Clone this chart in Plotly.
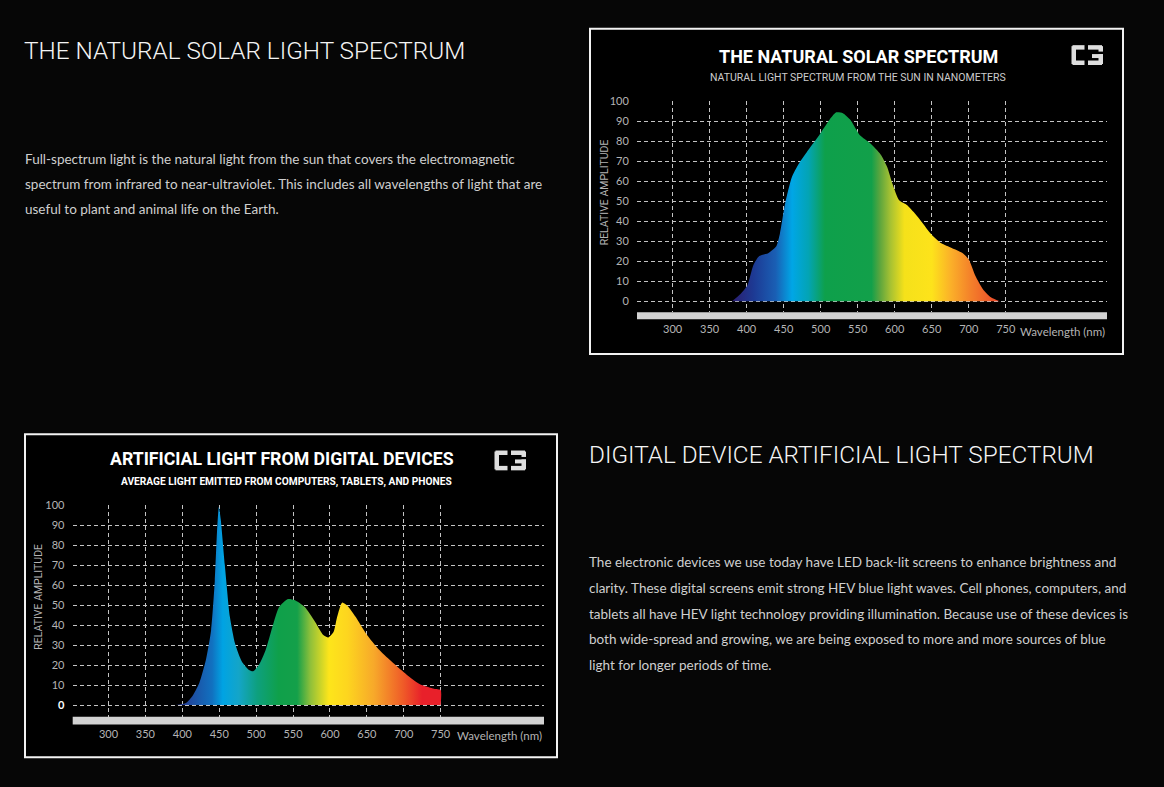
import plotly.graph_objects as go

W, H = 1164, 787

# natural solar spectrum
solar_nm = [380, 392, 401, 409, 417, 429, 440, 445, 452, 461, 470, 484, 498, 512,
            521, 530, 540, 553, 567, 581, 590, 597, 606, 617, 631, 650, 663, 677,
            691, 700, 709, 719, 730, 742]
solar_amp = [0, 3.8, 8, 18, 22.6, 24, 27.5, 34, 49, 62, 68.5, 76, 83, 90.7,
             94.4, 94, 90.7, 83, 79, 73.4, 67, 58.7, 50.5, 48, 42.3, 33.3, 29, 26.7,
             24.3, 21, 12.8, 6.2, 2, 0]

# artificial light from digital devices
device_nm = [391, 405, 414, 423, 432, 439, 444, 447, 449.5, 452, 457.6, 464.5, 471.4,
             480.6, 489.9, 495.9, 503.7, 512.9, 522, 531, 543, 552, 566, 580, 591,
             598, 605, 609.7, 616.6, 623.5, 635, 649, 667, 685.7, 704, 722.6, 741, 750, 750]
device_amp = [0, 1, 4.6, 11, 22.6, 37.4, 62, 86.6, 99, 93, 70, 44, 30.8,
              21.8, 17.7, 16.9, 20, 27.5, 39, 48.9, 53, 52.5, 49, 41.5, 35,
              33.8, 36.6, 44, 51.3, 49.7, 44, 35.7, 27.5, 21, 15.2, 10.3, 8.2, 7.5, 0]

x_ticks = [300, 350, 400, 450, 500, 550, 600, 650, 700, 750]
y_ticks = [0, 10, 20, 30, 40, 50, 60, 70, 80, 90, 100]

solar_scale = [[0.00, "#2b1d6e"], [0.08, "#1d3a94"], [0.16, "#1a5fb4"], [0.22, "#00a6e6"],
               [0.28, "#03a4b4"], [0.34, "#0ea04b"], [0.51, "#12a04a"], [0.54, "#5aa53e"],
               [0.58, "#a8c232"], [0.63, "#f5e11a"], [0.73, "#fde31b"], [0.80, "#fbb029"],
               [0.87, "#f4822a"], [1.00, "#e8382a"]]
device_scale = [[0.00, "#2a2f8a"], [0.08, "#1b55a8"], [0.14, "#1171c0"], [0.18, "#00a3e3"],
                [0.24, "#14a5c8"], [0.31, "#0ea07e"], [0.39, "#0fa04a"], [0.46, "#14a04a"],
                [0.51, "#8fc03a"], [0.58, "#fde51b"], [0.65, "#fdd51f"], [0.75, "#f7a82a"],
                [0.86, "#ef5a28"], [0.93, "#e8202a"], [1.00, "#e8202a"]]

para1 = ["Full-spectrum light is the natural light from the sun that covers the electromagnetic",
         "spectrum from infrared to near-ultraviolet. This includes all wavelengths of light that are",
         "useful to plant and animal life on the Earth."]
para2 = ["The electronic devices we use today have LED back-lit screens to enhance brightness and",
         "clarity. These digital screens emit strong HEV blue light waves. Cell phones, computers, and",
         "tablets all have HEV light technology providing illumination. Because use of these devices is",
         "both wide-spread and growing, we are being exposed to more and more sources of blue",
         "light for longer periods of time."]

GRID = "#c4c4c4"
TICK = "#b4b4b4"
NARROW = "Roboto, sans-serif"
BODY = "Lato, Open Sans, sans-serif"


def px(x):
    return x / W


def py(y):
    return 1 - y / H


fig = go.Figure()
fig.add_trace(go.Scatter(
    x=solar_nm, y=solar_amp, mode="none", fill="tozeroy",
    line=dict(shape="spline", smoothing=0.6),
    fillgradient=dict(type="horizontal", colorscale=solar_scale, start=380, stop=750),
    xaxis="x", yaxis="y", hoverinfo="skip", showlegend=False,
))
fig.add_trace(go.Scatter(
    x=device_nm, y=device_amp, mode="none", fill="tozeroy",
    line=dict(shape="spline", smoothing=0.6),
    fillgradient=dict(type="horizontal", colorscale=device_scale, start=390, stop=750),
    xaxis="x2", yaxis="y2", hoverinfo="skip", showlegend=False,
))

axis_common = dict(showline=False, zeroline=False, showgrid=True, gridcolor=GRID,
                   gridwidth=1, griddash="4px,3px", tickfont=dict(family=BODY, size=11, color=TICK),
                   ticks="outside", tickcolor="rgba(0,0,0,0)", fixedrange=True)

fig.update_layout(
    width=W, height=H,
    margin=dict(l=0, r=0, t=0, b=0),
    paper_bgcolor="#060606",
    plot_bgcolor="rgba(0,0,0,0)",
    xaxis=dict(**axis_common, domain=[px(637), px(1107)], range=[251.8, 886.9],
               tickvals=x_ticks, ticklen=7, anchor="y"),
    yaxis=dict(**axis_common, domain=[py(308), py(95)], range=[-5.45, 100],
               tickvals=y_ticks, ticklen=5, anchor="x"),
    xaxis2=dict(**axis_common, domain=[px(72.7), px(544)], range=[251.5, 890],
                tickvals=x_ticks, ticklen=7, anchor="y2"),
    yaxis2=dict(**axis_common, domain=[py(716), py(502.5)], range=[-5.8, 100],
                tickvals=y_ticks, ticktext=["<b style='color:#fff'>0</b>"] + [str(v) for v in y_ticks[1:]],
                ticklen=5, anchor="x2"),
)

shapes = [
    # chart frames
    dict(type="rect", xref="paper", yref="paper", x0=px(590), x1=px(1123), y0=py(350), y1=py(22),
         line=dict(color="#f2f2f2", width=2), fillcolor="#000000", layer="below"),
    dict(type="rect", xref="paper", yref="paper", x0=px(25), x1=px(557), y0=py(757), y1=py(431),
         line=dict(color="#f2f2f2", width=2), fillcolor="#000000", layer="below"),
    # grey baseline bars
    dict(type="rect", xref="paper", yref="paper", x0=px(637), x1=px(1107), y0=py(315), y1=py(308),
         line=dict(width=0), fillcolor="#d2d2d2"),
    dict(type="rect", xref="paper", yref="paper", x0=px(72.7), x1=px(544), y0=py(724), y1=py(716),
         line=dict(width=0), fillcolor="#d2d2d2"),
]


def logo(x, y):
    # bracket-style logo, x/y = top-left corner in pixels
    parts = [(0, 1, 4.5, 19), (1, 0, 13, 4.5), (1, 15.5, 13, 20),
             (16.5, 0, 30.5, 4.5), (27, 1, 31.5, 6.5),
             (20.5, 9, 31.5, 13), (27, 9, 31.5, 19), (16.5, 15.5, 30.5, 20)]
    return [dict(type="rect", xref="paper", yref="paper",
                 x0=px(x + a), x1=px(x + c), y0=py(y + d), y1=py(y + b),
                 line=dict(width=0), fillcolor="#dedede") for a, b, c, d in parts]


shapes += logo(1071.5, 38.5) + logo(494.5, 447.5)
fig.update_layout(shapes=shapes)

ann = []


def text(x, y, s, size, color="#ffffff", family=BODY, xanchor="left", textangle=0, weight=None):
    f = dict(family=family, size=size, color=color)
    if weight:
        f["weight"] = weight
    ann.append(dict(x=px(x), y=py(y), xref="paper", yref="paper", text=s, showarrow=False,
                    xanchor=xanchor, yanchor="middle", textangle=textangle, font=f))


# page headings and copy
text(22, 44, "THE NATURAL SOLAR LIGHT SPECTRUM", 24.3, "#f4f4f4", NARROW, weight=300)
text(587, 452, "DIGITAL DEVICE ARTIFICIAL LIGHT SPECTRUM", 24.3, "#f4f4f4", NARROW, weight=300)
for i, line in enumerate(para1):
    text(23, 153 + i * 25.5, line, 13.5, "#cfcfcf")
for i, line in enumerate(para2):
    text(587, 560 + i * 26, line, 13.5, "#cfcfcf")

# chart titles
text(858, 50, "THE NATURAL SOLAR SPECTRUM", 18, "#ffffff", NARROW, "center", weight=700)
text(858, 71, "NATURAL LIGHT SPECTRUM FROM THE SUN IN NANOMETERS", 10.5, "#cccccc", NARROW, "center")
text(282, 456, "ARTIFICIAL LIGHT FROM DIGITAL DEVICES", 17.7, "#ffffff", NARROW, "center", weight=700)
text(286, 479, "AVERAGE LIGHT EMITTED FROM COMPUTERS, TABLETS, AND PHONES", 10.2, "#ffffff",
     NARROW, "center", weight=700)

# axis labels
text(604, 187, "RELATIVE AMPLITUDE", 10.5, TICK, NARROW, "center", -90)
text(39, 595, "RELATIVE AMPLITUDE", 10.5, TICK, NARROW, "center", -90)
text(1107, 327, "Wavelength (nm)", 11.5, TICK, BODY, "right")
text(544, 735.5, "Wavelength (nm)", 11.5, TICK, BODY, "right")

fig.update_layout(annotations=ann)
fig.write_html("out.html", config={"displayModeBar": False},
               post_script="document.documentElement.style.margin='0';"
                           "document.body.style.margin='0';"
                           "document.body.style.overflow='hidden';"
                           "document.body.style.background='#060606';")
